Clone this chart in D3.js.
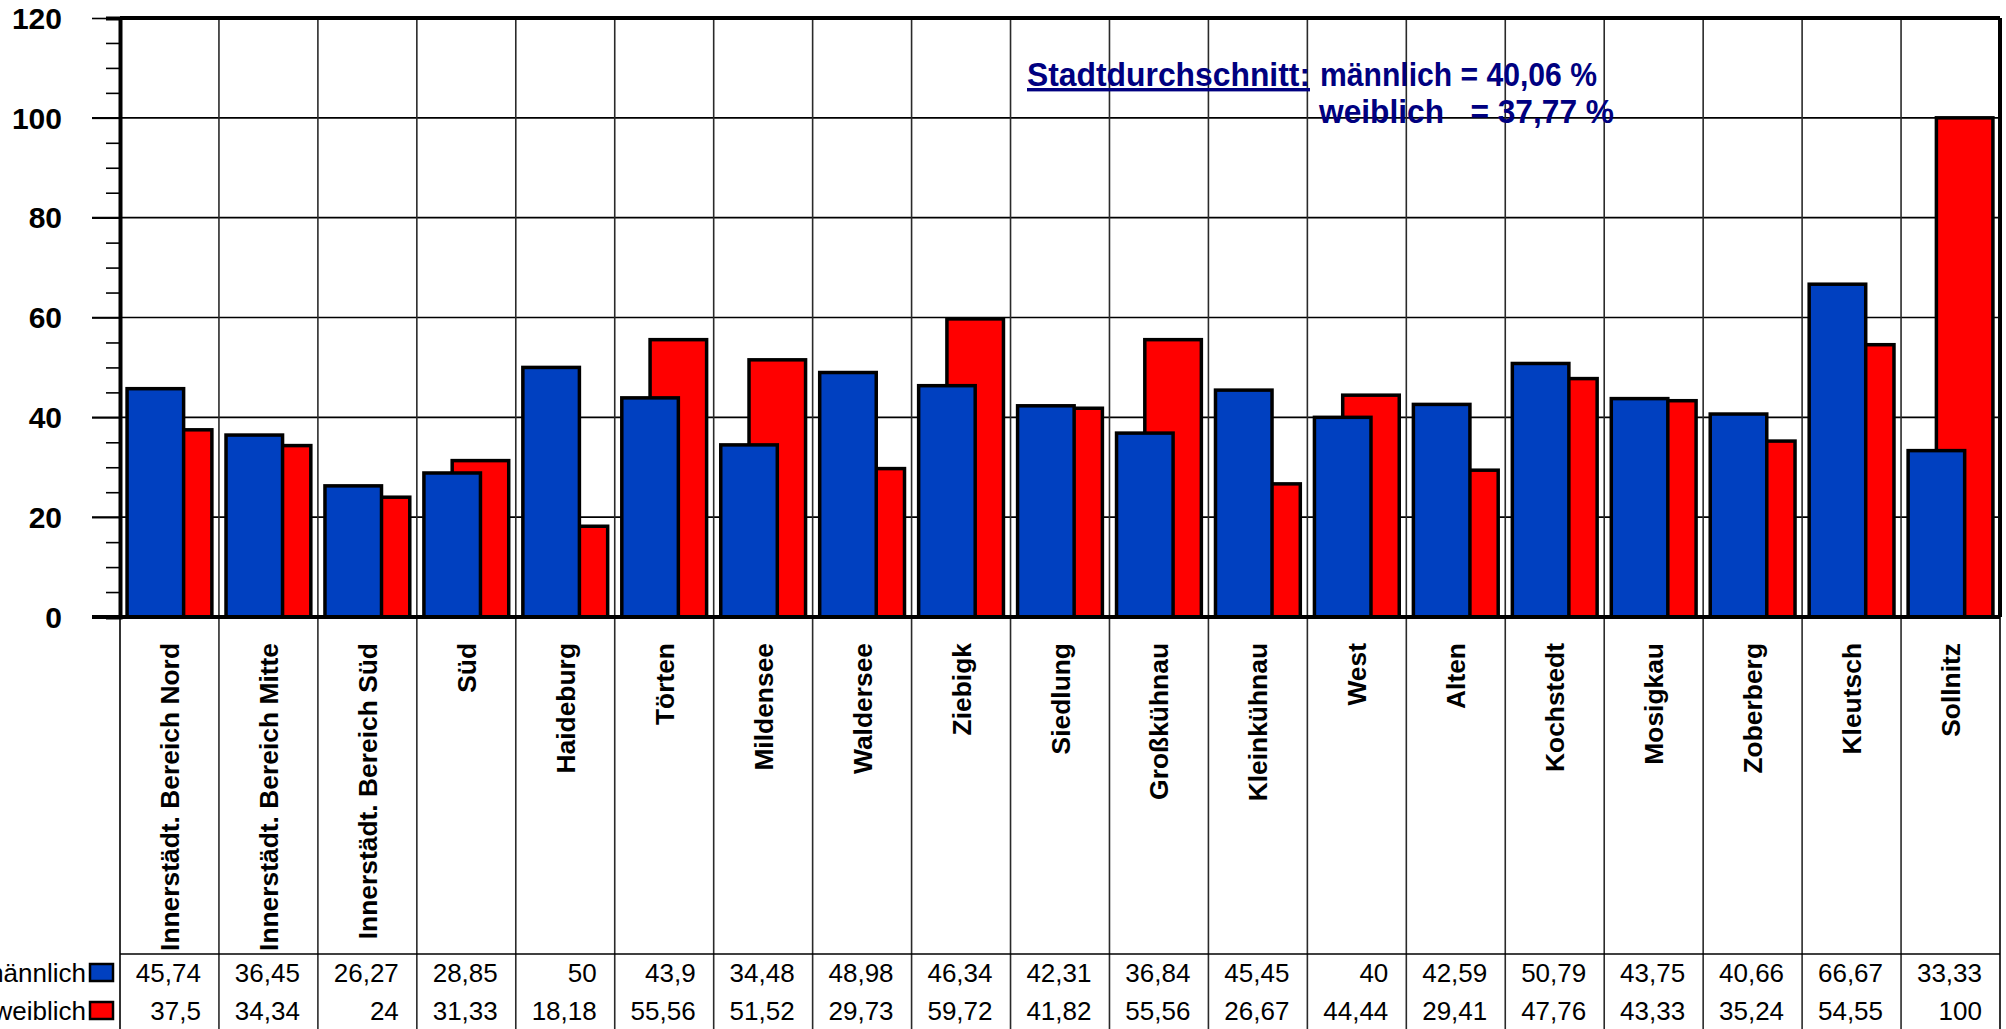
<!DOCTYPE html>
<html><head><meta charset="utf-8">
<script src="https://cdn.jsdelivr.net/npm/d3@7"></script>
<style>
body{margin:0;background:#fff;overflow:hidden}
svg{display:block}
text{font-family:"Liberation Sans",Arial,sans-serif}
</style>
</head><body>
<svg id="chart" width="2006" height="1029"></svg>
<script>
const categories = ["Innerstädt. Bereich Nord","Innerstädt. Bereich Mitte","Innerstädt. Bereich Süd","Süd","Haideburg","Törten","Mildensee","Waldersee","Ziebigk","Siedlung","Großkühnau","Kleinkühnau","West","Alten","Kochstedt","Mosigkau","Zoberberg","Kleutsch","Sollnitz"];
const maleValues   = [45.74,36.45,26.27,28.85,50,43.9,34.48,48.98,46.34,42.31,36.84,45.45,40,42.59,50.79,43.75,40.66,66.67,33.33];
const femaleValues = [37.5,34.34,24,31.33,18.18,55.56,51.52,29.73,59.72,41.82,55.56,26.67,44.44,29.41,47.76,43.33,35.24,54.55,100];
const seriesNames  = ["männlich","weiblich"];
const yTicks = [0,20,40,60,80,100,120];
const avgLabel = "Stadtdurchschnitt:";
const avgMale = "männlich = 40,06 %";
const avgFemale = "weiblich   = 37,77 %";

const svg = d3.select("#chart");
const L = 120, R = 2000, T = 18, B = 617, H = 1029;
const tableY = 954;
const blue = "#0040C0", red = "#FF0000";

const x = d3.scaleBand().domain(categories).range([L, R]).padding(0);
const y = d3.scaleLinear().domain([0, 120]).range([B, T]);
const bw = x.bandwidth();
const w = bw / 1.75;

// horizontal gridlines (major)
svg.append("g").selectAll("line").data(yTicks.filter(d => d > 0 && d < 120)).join("line")
  .attr("x1", 92).attr("x2", R).attr("y1", d => y(d)).attr("y2", d => y(d))
  .attr("stroke", "#000").attr("stroke-width", 1.6);

// vertical gridlines (category boundaries) through chart & table
svg.append("g").selectAll("line").data(categories.slice(1)).join("line")
  .attr("x1", d => x(d)).attr("x2", d => x(d)).attr("y1", T).attr("y2", H)
  .attr("stroke", "#2a2a2a").attr("stroke-width", 1.6);
svg.append("line").attr("x1", L).attr("x2", L).attr("y1", B).attr("y2", H).attr("stroke", "#000").attr("stroke-width", 1.6);
svg.append("line").attr("x1", R).attr("x2", R).attr("y1", B).attr("y2", H).attr("stroke", "#000").attr("stroke-width", 1.6);

// bars: red behind, blue in front
const idx = d3.range(categories.length);
svg.append("g").selectAll("rect").data(idx).join("rect")
  .attr("x", i => x(categories[i]) + 0.125 * w + 0.5 * w)
  .attr("y", i => y(femaleValues[i]))
  .attr("width", w)
  .attr("height", i => y(0) - y(femaleValues[i]))
  .attr("fill", red).attr("stroke", "#000").attr("stroke-width", 3.5);
svg.append("g").selectAll("rect").data(idx).join("rect")
  .attr("x", i => x(categories[i]) + 0.125 * w)
  .attr("y", i => y(maleValues[i]))
  .attr("width", w)
  .attr("height", i => y(0) - y(maleValues[i]))
  .attr("fill", blue).attr("stroke", "#000").attr("stroke-width", 3.5);

// frame
svg.append("line").attr("x1", L).attr("x2", R).attr("y1", T).attr("y2", T).attr("stroke", "#000").attr("stroke-width", 4);
svg.append("line").attr("x1", R).attr("x2", R).attr("y1", T).attr("y2", B).attr("stroke", "#000").attr("stroke-width", 4);

// y axis
const yAxis = d3.axisLeft(y).tickValues(d3.range(0, 121, 5)).tickSize(14).tickFormat("");
const ga = svg.append("g").attr("transform", `translate(${L},0)`).call(yAxis);
ga.select(".domain").attr("stroke", "#000").attr("stroke-width", 4);
ga.selectAll(".tick line").attr("stroke", "#000").attr("stroke-width", 1.6)
  .attr("x2", d => d % 20 === 0 ? -28 : -14);
svg.append("g").selectAll("text").data(yTicks).join("text")
  .attr("x", 62).attr("y", d => y(d)).attr("dy", "0.36em")
  .attr("text-anchor", "end").attr("font-size", 30).attr("font-weight", "bold")
  .text(d => d);

// x axis baseline
svg.append("line").attr("x1", 92).attr("x2", R).attr("y1", B).attr("y2", B).attr("stroke", "#000").attr("stroke-width", 4);

// category labels
svg.append("g").selectAll("text").data(categories).join("text")
  .attr("transform", d => `translate(${x(d) + bw / 2},643) rotate(-90)`)
  .attr("text-anchor", "end").attr("dy", "0.36em")
  .attr("font-size", 26.4).attr("font-weight", "bold")
  .text(d => d);

// data table
svg.append("line").attr("x1", L).attr("x2", R).attr("y1", tableY).attr("y2", tableY).attr("stroke", "#000").attr("stroke-width", 1.6);
const fmt = v => String(v).replace(".", ",");
const rows = [maleValues, femaleValues];
const rowBase = [982, 1020];
const rowColors = [blue, red];
rows.forEach((vals, r) => {
  svg.append("g").selectAll("text").data(idx).join("text")
    .attr("x", i => x(categories[i]) + bw - 18)
    .attr("y", rowBase[r])
    .attr("text-anchor", "end").attr("font-size", 26)
    .text(i => fmt(vals[i]));
  svg.append("text").attr("x", 86).attr("y", rowBase[r])
    .attr("text-anchor", "end").attr("font-size", 26).text(seriesNames[r]);
  svg.append("rect").attr("x", 90).attr("y", rowBase[r] - 18).attr("width", 23).attr("height", 17)
    .attr("fill", rowColors[r]).attr("stroke", "#000").attr("stroke-width", 2.5);
});

// annotation
const navy = "#000080";
svg.append("text").attr("x", 1027).attr("y", 86).attr("font-size", 34).attr("font-weight", "bold")
  .attr("fill", navy).attr("text-decoration", "underline")
  .attr("textLength", 283).attr("lengthAdjust", "spacingAndGlyphs").text(avgLabel);
svg.append("text").attr("x", 1320).attr("y", 86).attr("font-size", 34).attr("font-weight", "bold")
  .attr("fill", navy).attr("textLength", 277).attr("lengthAdjust", "spacingAndGlyphs").text(avgMale);
svg.append("text").attr("x", 1319).attr("y", 123).attr("font-size", 34).attr("font-weight", "bold")
  .attr("fill", navy).style("white-space", "pre")
  .attr("textLength", 295).attr("lengthAdjust", "spacingAndGlyphs").text(avgFemale);
</script>
</body></html>
